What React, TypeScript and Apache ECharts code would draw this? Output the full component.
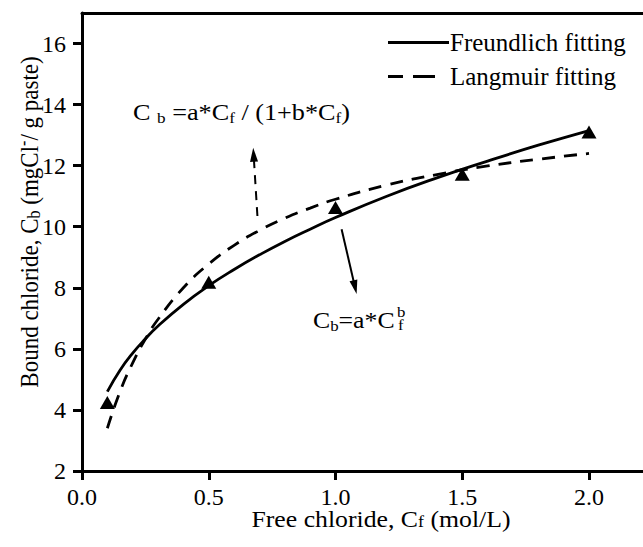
import React, { useEffect, useRef } from 'react';
import * as echarts from 'echarts';

const FONT = 'Liberation Serif';

// Fitted curves
const fitX = [0.1, 0.15, 0.2, 0.25, 0.3, 0.4, 0.5, 0.6, 0.7, 0.8, 0.9, 1.0, 1.2, 1.4, 1.6, 1.8, 2.0];
const freundlichY = [4.6, 5.3, 5.86, 6.33, 6.75, 7.46, 8.07, 8.6, 9.08, 9.52, 9.92, 10.3, 10.99, 11.6, 12.15, 12.67, 13.15];
const langmuirY = [3.4, 4.6, 5.54, 6.32, 6.97, 8.0, 8.78, 9.39, 9.88, 10.28, 10.61, 10.9, 11.36, 11.71, 11.99, 12.21, 12.4];
// Measured points (triangles)
const measuredX = [0.1, 0.5, 1.0, 1.5, 2.0];
const measuredY = [4.24, 8.18, 10.63, 11.72, 13.1];
// Axis ticks
const xTicks = [0, 0.5, 1.0, 1.5, 2.0];
const yTicks = [2, 4, 6, 8, 10, 12, 14, 16];
const seriesNames = ['Freundlich fitting', 'Langmuir fitting'];

const ARROW = 'path://M0,0 M14,14 M7,0 L11,14 L3,14 Z';
const SOLID_ICON = 'path://M0,0 L61,0 L61,3 L0,3 Z';
const DASH_ICON = 'path://M0,0 M61,3 M0,0 L15,0 L15,3 L0,3 Z M25,0 L47,0 L47,3 L25,3 Z';

export default function App() {
  const ref = useRef<HTMLDivElement>(null);
  useEffect(() => {
    if (!ref.current) return;
    const chart = echarts.init(ref.current, null, { renderer: 'svg' });
    const n = { fontSize: 23, fontFamily: FONT, color: '#000', lineHeight: 26 };
    const sub = { fontSize: 15, fontFamily: FONT, color: '#000', verticalAlign: 'bottom', lineHeight: 8 };
    const sup = { fontSize: 15, fontFamily: FONT, color: '#000', verticalAlign: 'top', lineHeight: 10 };
    const tickRich = { t: { fontSize: 24, fontFamily: FONT, color: '#000' } };
    const axisCommon = {
      axisLine: { show: true, lineStyle: { color: '#000', width: 3 } },
      axisTick: { show: true, length: 9, lineStyle: { color: '#000', width: 3 } },
      splitLine: { show: false },
    };
    chart.setOption({
      animation: false,
      backgroundColor: '#fff',
      textStyle: { fontFamily: FONT, color: '#000' },
      grid: { left: 82, right: 0, top: 13, bottom: 76, containLabel: false },
      xAxis: [
        {
          type: 'value', min: 0, max: 2.213, position: 'bottom',
          ...axisCommon,
          axisTick: { ...axisCommon.axisTick, customValues: xTicks },
          axisLabel: {
            customValues: xTicks, margin: 14, fontSize: 24, fontFamily: FONT, color: '#000',
            formatter: (v: number) => '{t|' + v.toFixed(1) + '}',
            rich: tickRich,
          },
        },
        {
          type: 'value', min: 0, max: 2.213, position: 'top',
          axisLine: { show: true, onZero: false, lineStyle: { color: '#000', width: 3 } },
          axisTick: { show: false }, axisLabel: { show: false }, splitLine: { show: false },
        },
      ],
      yAxis: {
        type: 'value', min: 2, max: 17,
        ...axisCommon,
        axisLine: { show: true, onZero: false, lineStyle: { color: '#000', width: 3 } },
        axisTick: { ...axisCommon.axisTick, customValues: yTicks },
        axisLabel: {
          customValues: yTicks, margin: 16, fontSize: 24, fontFamily: FONT, color: '#000',
          formatter: (v: number) => '{t|' + v + '}',
          rich: tickRich,
        },
      },
      legend: {
        data: [
          { name: seriesNames[0], icon: SOLID_ICON },
          { name: seriesNames[1], icon: DASH_ICON },
        ],
        orient: 'vertical', left: 383, top: 25,
        itemWidth: 61, itemHeight: 3, itemGap: 9,
        formatter: (name: string) => '{t|' + name + '}',
        textStyle: {
          fontFamily: FONT, fontSize: 25, color: '#000', lineHeight: 24, padding: [0, 0, 0, -4],
          rich: { t: { fontFamily: FONT, fontSize: 25, color: '#000', lineHeight: 24 } },
        },
      },
      series: [
        {
          name: seriesNames[0], type: 'line', smooth: true, symbol: 'none',
          data: fitX.map((x, i) => [x, freundlichY[i]]),
          lineStyle: { color: '#000', width: 2.8, type: 'solid' },
          itemStyle: { color: '#000' }, z: 3,
        },
        {
          name: seriesNames[1], type: 'line', smooth: true, symbol: 'none',
          data: fitX.map((x, i) => [x, langmuirY[i]]),
          lineStyle: { color: '#000', width: 2.8, type: [13, 9] },
          itemStyle: { color: '#000' }, z: 3,
        },
        {
          name: 'Measured', type: 'scatter', symbol: 'triangle', symbolSize: [15, 13],
          data: measuredX.map((x, i) => [x, measuredY[i]]),
          itemStyle: { color: '#000', opacity: 1 }, z: 4,
        },
        {
          type: 'lines', coordinateSystem: 'cartesian2d', silent: true, z: 5,
          symbol: ['none', ARROW], symbolSize: 14,
          lineStyle: { color: '#000', width: 2, curveness: 0, opacity: 1 },
          data: [
            { coords: [[0.692, 10.35], [0.677, 12.36]], lineStyle: { type: [9, 7], color: '#000', width: 2, opacity: 1 } },
            { coords: [[1.024, 9.92], [1.077, 8.02]], lineStyle: { type: 'solid', color: '#000', width: 2, opacity: 1 } },
          ],
        },
      ],
      graphic: [
        {
          type: 'text', x: 133, y: 112, scaleX: 1.14, silent: true,
          style: {
            text: '{n|C }{s|b}{n| =a*C}{s|f}{n| / (1+b*C}{s|f}{n|)}',
            verticalAlign: 'middle', align: 'left',
            rich: { n, s: sub },
          },
        },
        {
          type: 'text', x: 313, y: 320, scaleX: 1.12, silent: true,
          style: {
            text: '{n|C}{s|b}{n|=a*C}',
            verticalAlign: 'middle', align: 'left',
            rich: { n, s: sub },
          },
        },
        {
          type: 'text', x: 397, y: 312, scaleX: 1.12, silent: true,
          style: { text: '{s|b}', verticalAlign: 'middle', align: 'left', rich: { s: { fontSize: 15, fontFamily: FONT, color: '#000' } } },
        },
        {
          type: 'text', x: 398, y: 325, scaleX: 1.12, silent: true,
          style: { text: '{s|f}', verticalAlign: 'middle', align: 'left', rich: { s: { fontSize: 15, fontFamily: FONT, color: '#000' } } },
        },
        {
          type: 'text', x: 381, y: 519, scaleX: 1.12, silent: true,
          style: {
            text: '{n|Free chloride, C}{s|f}{n| (mol/L)}',
            verticalAlign: 'middle', align: 'center',
            rich: { n: { ...n, lineHeight: 22 }, s: { ...sub, fontSize: 16 } },
          },
        },
        {
          type: 'text', x: 29, y: 222, rotation: Math.PI / 2, scaleY: 1.12, silent: true,
          style: {
            text: '{n|Bound chloride, C}{s|b}{n| (mgCl}{p|-}{n|/ g paste)}',
            verticalAlign: 'middle', align: 'center',
            rich: { n, s: { ...sub, fontSize: 16 }, p: { ...sup, fontSize: 16 } },
          },
        },
      ],
    });
    return () => chart.dispose();
  }, []);
  return <div ref={ref} style={{ position: 'absolute', left: 0, top: 0, width: 643, height: 547 }} />;
}
